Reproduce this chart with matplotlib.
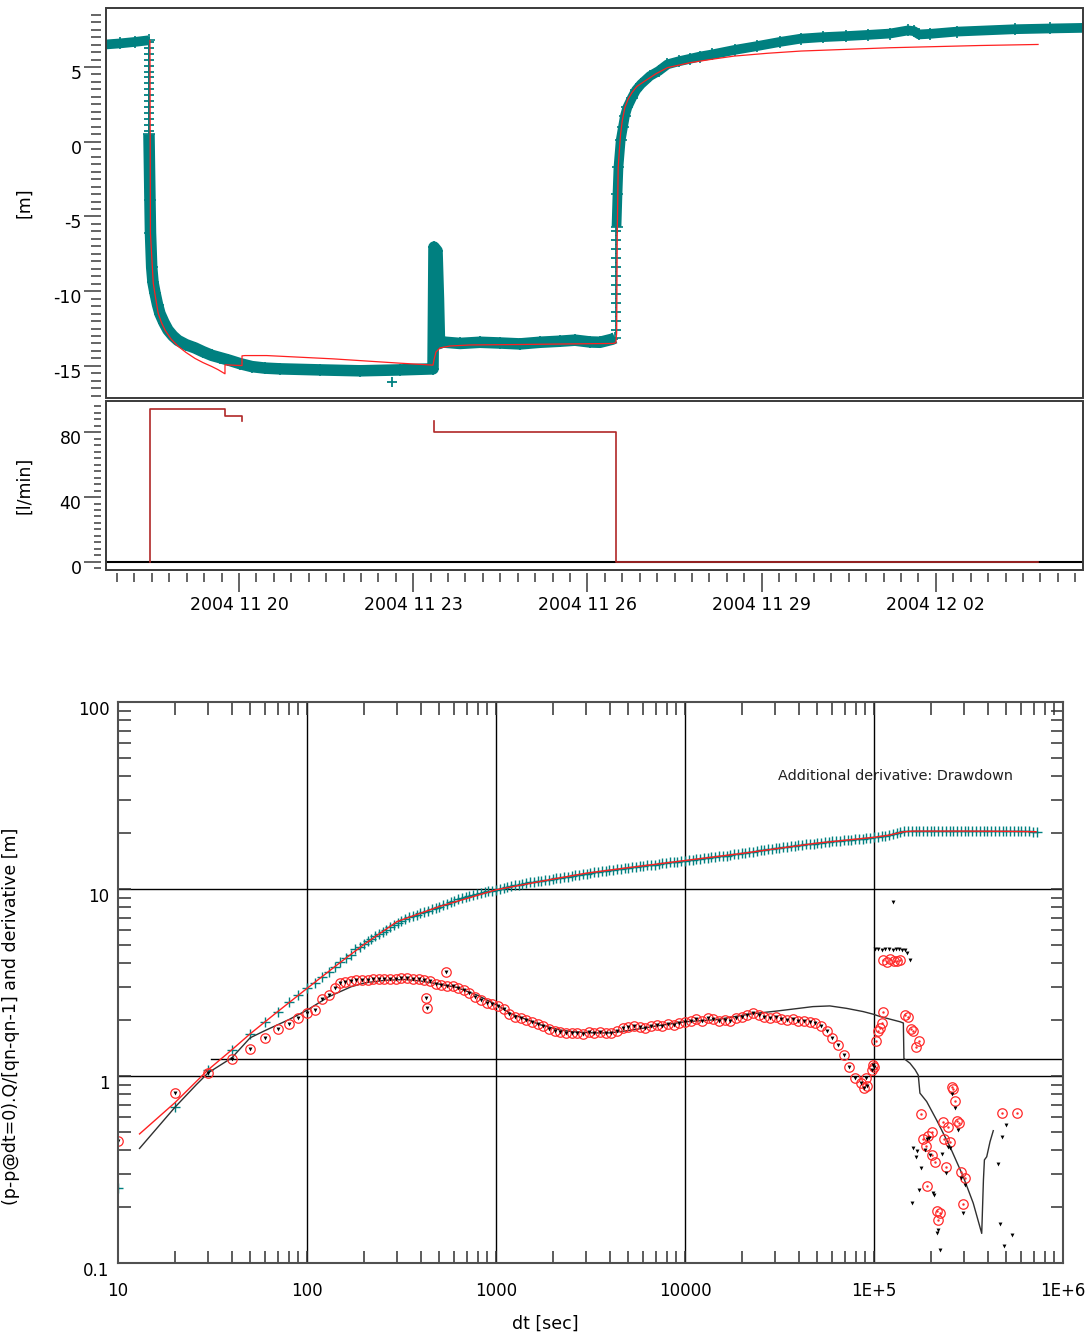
import numpy as np
import matplotlib
matplotlib.use("Agg")
import matplotlib.pyplot as plt
import matplotlib.dates as mdates
from matplotlib.ticker import FixedLocator, FixedFormatter, LogLocator, NullFormatter
from matplotlib.transforms import ScaledTranslation
from matplotlib.patches import Rectangle
from datetime import datetime

plt.rcParams["font.family"] = ["DejaVu Sans"]
plt.rcParams["axes.unicode_minus"] = False

# ====================== DATA ======================
# time axis of the upper panels: days after 2004-11-20 00:00
T0 = datetime(2004, 11, 20)
date_ticks = ["2004-11-20", "2004-11-23", "2004-11-26", "2004-11-29", "2004-12-02"]

# measured water level [m] (band segments and discrete marks)
lvl_pre_t = [-2.29, -2.05, -1.79, -1.555]
lvl_pre_v = [6.51, 6.58, 6.68, 6.79]
lvl_drop_t = [-1.548] * 16
lvl_drop_v = [6.7, 6.3, 5.9, 5.5, 5.1, 4.7, 4.3, 3.9, 3.5, 3.1, 2.7, 2.3, 1.9, 1.5, 1.1, 0.7]
lvl_pump_t = [-1.550, -1.533, -1.524, -1.503, -1.481, -1.447, -1.403, -1.361, -1.292, -1.223,
              -1.137, -1.050, -0.913, -0.758, -0.620, -0.465, -0.327, -0.189, 0.017, 0.224,
              0.448, 0.706, 1.395, 2.084, 2.773, 3.341, 3.358, 3.41, 3.435, 3.453,
              3.496, 3.806, 4.15, 4.495, 4.839, 5.183, 5.528, 5.786, 6.044, 6.217, 6.423, 6.475]
lvl_pump_v = [0.5, -3.9, -6.1, -8.4, -9.4, -10.1, -10.9, -11.5, -12.1, -12.6,
              -13.0, -13.3, -13.58, -13.8, -14.05, -14.3, -14.45, -14.6, -14.85, -15.05,
              -15.15, -15.2, -15.27, -15.33, -15.27, -15.2, -7.05, -7.3, -10.5, -13.5,
              -13.4, -13.5, -13.42, -13.47, -13.53, -13.42, -13.35, -13.28, -13.4, -13.42, -13.22, -13.13]
lvl_rise_t = [6.49] * 12
lvl_rise_v = [-12.6, -12.0, -11.4, -10.8, -10.2, -9.6, -9.0, -8.4, -7.8, -7.2, -6.6, -6.0]
lvl_rec_t = [6.501, 6.518, 6.535, 6.573, 6.613, 6.647, 6.688, 6.768, 6.837, 6.923, 7.078, 7.226,
             7.379, 7.57, 7.767, 7.939, 8.145, 8.541, 8.92, 9.316, 9.678, 10.057, 10.453,
             10.832, 11.21, 11.52, 11.624, 11.71, 11.9, 12.364, 13.363, 13.966, 14.534]
lvl_rec_v = [-5.7, -3.5, -1.7, 0.1, 1.0, 1.75, 2.3, 2.95, 3.45, 3.85, 4.4, 4.73,
             5.18, 5.38, 5.55, 5.7, 5.84, 6.15, 6.4, 6.68, 6.9, 7.0, 7.07,
             7.15, 7.24, 7.45, 7.4, 7.18, 7.22, 7.37, 7.53, 7.58, 7.62]
lvl_out_t = [2.63]
lvl_out_v = [-16.05]

# simulated water level [m]
sim_t = [-1.533, -1.525, -1.476, -1.438, -1.392, -1.335, -1.274, -1.171, -1.045, -0.913,
         -0.758, -0.620, -0.470, -0.362, -0.241, -0.241,
         0.052, 0.052, 0.103, 0.477, 1.618, 2.773, 3.341, 3.358, 3.392, 3.461, 3.633, 3.978,
         4.839, 5.700, 6.44, 6.49, 6.504, 6.514, 6.53, 6.55, 6.57, 6.60, 6.645, 6.70, 6.768,
         6.85, 6.992, 7.18, 7.379, 7.767, 8.145, 8.524, 9.10, 9.678, 11.21, 12.76, 13.76]
sim_v = [6.78, -6.13, -9.47, -10.4, -11.47, -12.1, -12.6, -13.2, -13.7, -14.1,
         -14.5, -14.78, -15.04, -15.25, -15.53, -14.93,
         -14.98, -14.33, -14.31, -14.31, -14.53, -14.82, -14.95, -14.6, -14.07, -13.8, -13.67, -13.6,
         -13.57, -13.53, -13.5, -13.45, -12.8, -6.13, -1.71, -0.6, 0.47, 1.4, 2.29, 2.85, 3.29,
         3.7, 4.07, 4.55, 4.96, 5.29, 5.52, 5.73, 5.92, 6.07, 6.29, 6.44, 6.51]

# pumping rate [l/min]
rate1_t = [-1.533, -1.533, -0.241, -0.241, 0.05, 0.05]
rate1_q = [0, 94.4, 94.4, 90.3, 90.3, 87.2]
rate2_t = [3.358, 3.358, 6.49, 6.49, 13.76]
rate2_q = [87.0, 80.0, 80.0, 0.0, 0.0]

# ---- diagnostic plot ----
dd_dt = [10, 20, 30, 40, 50, 60, 70, 80, 90, 100, 110, 120, 130, 140, 150, 160, 170, 180, 190, 200,
         219, 240, 263, 288, 316, 347, 380, 417, 457, 501, 550, 603, 661, 724, 794, 871, 955,
         1047, 1148, 1259, 1380, 1514, 1660, 1820, 1995, 2188, 2399, 2630, 2884, 3162, 3467,
         3802, 4169, 4571, 5012, 5495, 6026, 6607, 7244, 7943, 8710, 9550, 10470, 11480, 12590,
         13800, 15140, 16600, 18200, 19950, 21880, 23990, 26300, 28840, 31620, 34670, 38020,
         41690, 45710, 50120, 54950, 60260, 66070, 72440, 79430, 87100, 95500, 104700, 114800,
         125900, 138000, 151400, 166000, 182000, 199500, 218800, 239900, 263000, 288400, 316200,
         346700, 380200, 416900, 457100, 501200, 549500, 602600, 660700, 724400,
         209, 229, 251, 275, 302, 331, 363, 398, 437, 479, 525, 575, 631, 692, 759, 832, 912,
         1000, 1096, 1202, 1318, 1445, 1585, 1738, 1905, 2089, 2291, 2512, 2754, 3020, 3311,
         3631, 3981, 4365, 4786, 5248, 5754, 6310, 6918, 7586, 8318, 9120, 10000, 10960, 12020,
         13180, 14450, 15850, 17380, 19050, 20890, 22910, 25120, 27540, 30200, 33110, 36310,
         39810, 43650, 47860, 52480, 57540, 63100, 69180, 75860, 83180, 91200, 100000, 109600,
         120200, 131800, 144500, 158500, 173800, 190500, 208900, 229100, 251200, 275400,
         302000, 331100, 363100, 398100, 436500, 478600, 524800, 575400, 631000, 691800]
dd_val = [0.252, 0.68, 1.08, 1.38, 1.68, 1.95, 2.21, 2.5, 2.71, 2.94, 3.15, 3.38, 3.6, 3.85, 4.05,
          4.25, 4.45, 4.75, 4.92, 5.08,
          5.42, 5.75, 6.05, 6.4, 6.75, 7.05, 7.3, 7.55, 7.8, 8.05, 8.35, 8.65, 8.95, 9.2, 9.4, 9.6,
          9.8, 10.0, 10.25, 10.45, 10.65, 10.85, 11.0, 11.15, 11.3, 11.45, 11.65, 11.85, 12.0, 12.2,
          12.4, 12.55, 12.7, 12.85, 13.0, 13.15, 13.3, 13.45, 13.6, 13.8, 13.95, 14.1, 14.25, 14.4,
          14.6, 14.75, 14.95, 15.1, 15.3, 15.5, 15.7, 15.95, 16.2, 16.45, 16.6, 16.85, 17.05,
          17.25, 17.45, 17.6, 17.8, 17.95, 18.1, 18.25, 18.4, 18.6, 18.8, 19.0, 19.3,
          19.8, 20.2, 20.4, 20.5, 20.5, 20.45, 20.5, 20.5, 20.45, 20.5, 20.5,
          20.45, 20.4, 20.5, 20.45, 20.4, 20.35, 20.3, 20.3, 20.2,
          5.25, 5.6, 5.9, 6.25, 6.6, 6.9, 7.2, 7.45, 7.65, 7.95, 8.2, 8.5, 8.8, 9.1, 9.3, 9.5, 9.7,
          9.9, 10.1, 10.35, 10.55, 10.75, 10.9, 11.1, 11.2, 11.4, 11.55, 11.75, 11.9, 12.1, 12.3,
          12.5, 12.6, 12.8, 12.9, 13.1, 13.2, 13.4, 13.5, 13.7, 13.9, 14.0, 14.2, 14.3, 14.5,
          14.7, 14.85, 15.0, 15.2, 15.4, 15.6, 15.8, 16.1, 16.3, 16.5, 16.75, 16.95,
          17.15, 17.35, 17.5, 17.7, 17.85, 18.0, 18.2, 18.3, 18.5, 18.7, 18.9, 19.1,
          19.5, 20.0, 20.3, 20.5, 20.45, 20.5, 20.5, 20.45, 20.5, 20.5,
          20.4, 20.5, 20.45, 20.45, 20.5, 20.4, 20.35, 20.3, 20.3, 20.25]

model_dt = [13, 20, 30, 40, 50, 70, 100, 150, 200, 300, 500, 1000, 2000, 3000, 5000, 10000,
            20000, 30000, 50000, 100000, 120000, 142000, 160000, 200000, 300000, 500000, 720000]
model_val = [0.49, 0.72, 1.08, 1.38, 1.68, 2.21, 2.94, 4.05, 5.05, 6.7, 8.05, 9.9, 11.3, 12.15,
             13.0, 14.2, 15.5, 16.4, 17.6, 18.9, 19.4, 20.2, 20.4, 20.4, 20.4, 20.35, 20.25]

der_dt = [10, 20, 30, 40, 50, 60, 70, 80, 90, 100, 110, 120, 130, 140, 150,
          158, 170, 182, 195, 209, 224, 240, 257, 275, 295, 316, 339, 363, 389, 417, 447, 479,
          513, 550, 589, 631, 676, 724, 776, 832, 891, 955, 1023, 1096, 1175, 1259, 1349, 1445,
          1549, 1660, 1778, 1905, 2042, 2188, 2344, 2512, 2692, 2884, 3090, 3311, 3548, 3802,
          4074, 4365, 4677, 5012, 5370, 5754, 6166, 6607, 7079, 7586, 8128, 8710, 9333, 10000,
          10720, 11480, 12300, 13180, 14130, 15140, 16220, 17380, 18620, 19950, 21380, 22910,
          24550, 26300, 28180, 30200, 32360, 34670, 37150, 39810, 42660, 45710, 48980, 52480,
          56230, 60260, 64570, 69180, 74130, 79430, 85110, 88000, 91200, 92000, 97720, 99000,
          100500, 424, 433, 541]
der_val = [0.45, 0.81, 1.04, 1.23, 1.39, 1.6, 1.78, 1.9, 2.04, 2.18, 2.25, 2.58, 2.71, 2.97, 3.14,
           3.18, 3.22, 3.25, 3.27, 3.28, 3.3, 3.29, 3.31, 3.3, 3.32, 3.33, 3.34, 3.32, 3.3, 3.26,
           3.22, 3.12, 3.06, 3.04, 3.02, 2.95, 2.88, 2.78, 2.66, 2.54, 2.47, 2.42, 2.38, 2.28,
           2.14, 2.08, 2.03, 1.99, 1.94, 1.9, 1.85, 1.78, 1.74, 1.72, 1.7, 1.69, 1.7, 1.68, 1.71,
           1.69, 1.72, 1.7, 1.69, 1.74, 1.8, 1.83, 1.84, 1.82, 1.8, 1.85, 1.87, 1.86, 1.9, 1.88,
           1.93, 1.95, 1.98, 2.01, 1.98, 2.04, 2.02, 1.97, 2.0, 1.98, 2.03, 2.08, 2.13, 2.16,
           2.12, 2.08, 2.04, 2.06, 2.01, 1.99, 2.02, 1.97, 1.96, 1.94, 1.92, 1.85, 1.74, 1.6,
           1.46, 1.3, 1.12, 0.98, 0.92, 0.86, 0.97, 0.88, 1.08, 1.14, 1.12, 2.61, 2.31, 3.6]

# late-time derivative (circles only)
der_late_dt = [102000, 105000, 107000, 110000, 112000, 112000, 117000, 122000, 127000, 132000,
               137000, 146000, 151000, 156000, 161000, 167000, 172000, 177600, 181700, 187800,
               190000, 193800, 201800, 201800, 210200, 214700, 223500, 217500, 230700, 235500,
               247200, 252300, 239300, 257600, 263000, 268500, 274000, 281800, 288700, 303000,
               294300, 474000, 573000]
der_late_val = [1.54, 1.73, 1.8, 1.91, 2.21, 4.15, 4.05, 4.2, 4.1, 4.12, 4.18, 2.12, 2.07, 1.78,
                1.73, 1.43, 1.54, 0.626, 0.46, 0.42, 0.258, 0.478, 0.504, 0.378, 0.348, 0.19,
                0.186, 0.17, 0.565, 0.46, 0.536, 0.445, 0.327, 0.877, 0.85, 0.735, 0.575, 0.558,
                0.308, 0.286, 0.208, 0.636, 0.636]

# additional derivative (drawdown), late time, black marks
add_dt = [101000, 105000, 110000, 115000, 120000, 126000, 131000, 136000, 141000, 146000,
          150000, 155000, 126000, 158500, 161000, 166000, 169500, 173800, 177600, 186000,
          191400, 196300, 197800, 204300, 207600, 214700, 218800, 223500, 229800, 240300,
          245400, 252300, 257600, 268500, 279400, 287600, 303000, 294300, 454900, 474200,
          499300, 464500, 487600, 535400]
add_val = [4.78, 4.8, 4.74, 4.78, 4.8, 4.72, 4.78, 4.76, 4.7, 4.72, 4.55, 4.15, 8.5, 0.21,
           0.41, 0.367, 0.397, 0.246, 0.321, 0.40, 0.459, 0.464, 0.378, 0.238, 0.231, 0.144,
           0.15, 0.117, 0.381, 0.304, 0.419, 0.41, 0.8, 0.672, 0.514, 0.284, 0.262, 0.184,
           0.337, 0.47, 0.547, 0.162, 0.123, 0.141]

# model derivative
mder_dt = [13, 20, 26, 30, 40, 50, 60, 80, 100, 130, 171, 203, 260, 330, 400, 500, 617, 800,
           1006, 1200, 1500, 1710, 2200, 2620, 3300, 4010, 5000, 6000, 7000, 10000, 14600,
           22400, 30000, 40000, 47500, 58400, 71600, 87700, 99100, 107600, 137300, 143000,
           144000, 155000, 165000, 171500, 175000, 190000, 214700, 252300, 296500, 335000,
           371500, 379300, 383900, 394800, 411000, 427700]
mder_val = [0.41, 0.68, 0.9, 1.04, 1.25, 1.6, 1.75, 2.0, 2.25, 2.65, 3.0, 3.15, 3.25, 3.28, 3.22,
            3.1, 2.98, 2.7, 2.4, 2.15, 1.98, 1.88, 1.76, 1.72, 1.7, 1.7, 1.75, 1.8, 1.85, 1.95,
            2.0, 2.15, 2.22, 2.3, 2.35, 2.37, 2.3, 2.21, 2.14, 2.08, 1.95, 1.92, 1.24, 1.17,
            1.08, 1.01, 0.81, 0.73, 0.58, 0.419, 0.29, 0.209, 0.144, 0.278, 0.356, 0.37,
            0.445, 0.51]

ref_line_dt = [31, 1000000]
ref_line_val = [1.23, 1.23]

x_tick_vals = [10, 100, 1000, 10000, 100000, 1000000]
x_tick_labels = ["10", "100", "1000", "10000", "1E+5", "1E+6"]
y_tick_vals = [0.1, 1, 10, 100]
y_tick_labels = ["0.1", "1", "10", "100"]

# ====================== STYLE ======================
TEAL = "#008080"
RED = "#ff2020"
FLOW = "#b02828"
FRAME = "#3a3a3a"
W, H = 1092, 1338

fig = plt.figure(figsize=(W / 100, H / 100), dpi=100)


def px_axes(l, t, r, b):
    return fig.add_axes([l / W, 1 - b / H, (r - l) / W, (b - t) / H])


base = mdates.date2num(T0)


def tx(t):
    return base + np.asarray(t, dtype=float)


def frame(ax, color=FRAME, lw=1.4):
    for s in ax.spines.values():
        s.set_visible(False)
    ax.add_patch(Rectangle((0, 0), 1, 1, transform=ax.transAxes, fill=False,
                           ec=color, lw=lw, clip_on=False, zorder=10))


xmin, xmax = tx(-2.29), tx(14.534)
down5 = ScaledTranslation(0, -5 / 100, fig.dpi_scale_trans)

# ---------------- top panel: water level ----------------
ax1 = px_axes(106, 8, 1083, 398)
frame(ax1)
ax1.spines["left"].set_position(("outward", 3.6))
band = dict(color=TEAL, lw=7.0, solid_joinstyle="round", solid_capstyle="butt",
            marker="+", ms=8, mew=1.2)
ax1.plot(tx(lvl_pre_t), lvl_pre_v, **band)
ax1.plot(tx(lvl_pump_t), lvl_pump_v, **dict(band, lw=8.3))
ax1.plot(tx(lvl_rec_t), lvl_rec_v, **band)
marks = dict(ls="none", color=TEAL, marker="+", ms=7, mew=1.3)
ax1.plot(tx(lvl_drop_t), lvl_drop_v, **marks)
ax1.plot(tx(lvl_rise_t), lvl_rise_v, **marks)
ax1.plot(tx(lvl_out_t), lvl_out_v, **marks)
ax1.plot(tx(sim_t), sim_v, color=RED, lw=0.9, zorder=5)
ax1.set_xlim(xmin, xmax)
ax1.set_ylim(-17.15, 8.95)
ax1.yaxis.set_major_locator(FixedLocator([-15, -10, -5, 0, 5]))
ax1.yaxis.set_minor_locator(FixedLocator(np.arange(-17.0, 8.6, 0.5)))
ax1.tick_params(axis="y", which="major", direction="out", length=12, width=1.1,
                color=FRAME, labelsize=12.5, pad=2)
ax1.tick_params(axis="y", which="minor", direction="out", length=7, width=1.1, color=FRAME)
ax1.tick_params(axis="x", which="both", bottom=False, labelbottom=False)
ax1.set_ylabel("[m]", fontsize=12.5)
ax1.yaxis.set_label_coords(-0.0747, 0.5)

# ---------------- middle panel: pumping rate ----------------
ax2 = px_axes(106, 401, 1083, 570)
frame(ax2)
ax2.spines["left"].set_position(("outward", 3.6))
ax2.spines["bottom"].set_position(("outward", 2.2))
ax2.axhline(0, color="black", lw=1.5, zorder=2)
ax2.plot(tx(rate1_t), rate1_q, color=FLOW, lw=1.2, zorder=3)
ax2.plot(tx(rate2_t), rate2_q, color=FLOW, lw=1.2, zorder=3)
ax2.set_xlim(xmin, xmax)
ax2.set_ylim(-5.1, 99.4)
ax2.yaxis.set_major_locator(FixedLocator([0, 40, 80]))
ax2.yaxis.set_minor_locator(FixedLocator(np.arange(-4, 99, 4)))
ax2.tick_params(axis="y", which="major", direction="out", length=12, width=1.1,
                color=FRAME, labelsize=12.5, pad=2)
ax2.tick_params(axis="y", which="minor", direction="out", length=5, width=1.1, color=FRAME)
major_dates = [mdates.date2num(datetime.strptime(d, "%Y-%m-%d")) for d in date_ticks]
ax2.xaxis.set_major_locator(FixedLocator(major_dates))
ax2.xaxis.set_minor_locator(FixedLocator(base + np.arange(-2.1, 14.5, 0.3)))
ax2.xaxis.set_major_formatter(mdates.DateFormatter("%Y %m %d"))
ax2.tick_params(axis="x", which="major", direction="out", length=13.7, width=1.1,
                color=FRAME, labelsize=12.5, pad=3)
ax2.tick_params(axis="x", which="minor", direction="out", length=6.5, width=1.1, color=FRAME)
ax2.set_ylabel("[l/min]", fontsize=12.5)
ax2.yaxis.set_label_coords(-0.0747, 0.5)

for a in (ax1, ax2):
    for t in a.yaxis.get_major_ticks():
        t.label1.set_transform(t.label1.get_transform() + down5)

# ---------------- bottom panel: diagnostic log-log plot ----------------
ax3 = px_axes(118, 702, 1063, 1263)
ax3.set_xscale("log")
ax3.set_yscale("log")
ax3.set_xlim(10, 1e6)
ax3.set_ylim(0.1, 100)
for s in ax3.spines.values():
    s.set_color("#505050")
    s.set_linewidth(1.5)
    s.set_zorder(10)

for v in [100, 1000, 10000, 100000]:
    ax3.axvline(v, color="black", lw=1.0, zorder=1)
for v in [1, 10]:
    ax3.axhline(v, color="black", lw=1.0, zorder=1)
ax3.plot(ref_line_dt, ref_line_val, color="black", lw=1.0, zorder=1)

ax3.plot(dd_dt, dd_val, ls="none", marker="+", color=TEAL, ms=7, mew=1.0, zorder=3)
ax3.plot(model_dt, model_val, color=RED, lw=1.0, zorder=4)
circ = dict(ls="none", marker="o", mfc="none", mec="#ff2a2a", ms=6.8, mew=0.9, zorder=5)
ax3.plot(der_dt, der_val, **circ)
ax3.plot(der_late_dt, der_late_val, **circ)
ax3.plot(der_late_dt, der_late_val, ls="none", marker=".", color="#ff2a2a", ms=1.5, zorder=5)
dots = dict(ls="none", marker="v", color="black", ms=2.8, mew=0, zorder=6)
ax3.plot(der_dt, der_val, **dots)
ax3.plot(add_dt, add_val, **dots)
ax3.plot(mder_dt, mder_val, color="#303030", lw=1.0, zorder=4)

ax3.xaxis.set_major_locator(FixedLocator(x_tick_vals))
ax3.xaxis.set_major_formatter(FixedFormatter(x_tick_labels))
ax3.xaxis.set_minor_locator(LogLocator(base=10, subs=np.arange(2, 10), numticks=20))
ax3.xaxis.set_minor_formatter(NullFormatter())
ax3.yaxis.set_major_locator(FixedLocator(y_tick_vals))
ax3.yaxis.set_major_formatter(FixedFormatter(y_tick_labels))
ax3.yaxis.set_minor_locator(LogLocator(base=10, subs=np.arange(2, 10), numticks=20))
ax3.yaxis.set_minor_formatter(NullFormatter())
ax3.tick_params(which="both", direction="in", top=True, right=True, length=9,
                width=1.1, color="#303030")
ax3.tick_params(axis="x", which="major", labelsize=12, pad=14)
ax3.tick_params(axis="y", which="major", labelsize=12, pad=6)
down6 = ScaledTranslation(0, -6 / 100, fig.dpi_scale_trans)
for t in ax3.yaxis.get_major_ticks():
    t.label1.set_transform(t.label1.get_transform() + down6)

ax3.set_ylabel("(p-p@dt=0).Q/[qn-qn-1] and derivative [m]", fontsize=12.5)
ax3.yaxis.set_label_coords(-0.1037, 0.44)
ax3.set_xlabel("dt [sec]", fontsize=12.5)
ax3.xaxis.set_label_coords(0.452, -0.093)
ax3.text(31050, 40.2, "Additional derivative: Drawdown", fontsize=10.4,
         ha="left", va="center", color="#202020", zorder=7)

fig.savefig("out.png", dpi=100)
